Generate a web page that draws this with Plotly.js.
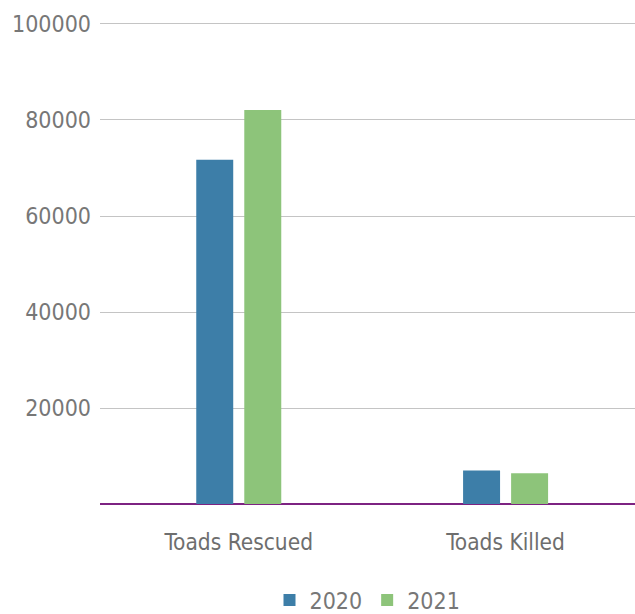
<!DOCTYPE html>
<html><head><meta charset="utf-8">
<script src="https://cdn.plot.ly/plotly-3.0.1.min.js"></script>
<style>html,body{margin:0;padding:0;background:#fff}#chart{width:635px;height:614px}</style>
</head><body><div id="chart"></div>
<script>
const categories = ["Toads Rescued", "Toads Killed"];
const values2020 = [71700, 7000];
const values2021 = [82100, 6400];
const yTicks = [20000, 40000, 60000, 80000, 100000];

const traces = [
  {type: "bar", name: "2020", x: categories, y: values2020, marker: {color: "#3d7ea8"}},
  {type: "bar", name: "2021", x: categories, y: values2021, marker: {color: "#8dc47a"}}
];
const layout = {
  width: 635, height: 614,
  margin: {l: 100, r: 0, t: 19, b: 110, autoexpand: false},
  paper_bgcolor: "#fff", plot_bgcolor: "#fff",
  barmode: "group", bargap: 0.64, bargroupgap: 0.23,
  font: {family: "DejaVu Sans Condensed, DejaVu Sans, sans-serif", color: "#777"},
  xaxis: {
    range: [-0.52, 1.485], showgrid: false, zeroline: false,
    showline: false, ticks: "", automargin: false,
    tickfont: {size: 22.5, color: "#6e6e6e"},
    ticklabelstandoff: 22
  },
  yaxis: {
    range: [0, 101040], tickvals: yTicks, ticktext: yTicks.map(String),
    showgrid: true, gridcolor: "#c4c4c4", gridwidth: 1,
    zeroline: true, zerolinecolor: "#7d2382", zerolinewidth: 2.5,
    showline: false, ticks: "", automargin: false,
    tickfont: {size: 23, color: "#777"},
    ticklabelstandoff: 8
  },
  showlegend: true,
  legend: {orientation: "h", x: 0.5, xanchor: "center", y: -0.198, yanchor: "middle",
    font: {size: 23, color: "#777"}, itemwidth: 30, traceorder: "normal"}
};
Plotly.newPlot("chart", traces, layout, {displayModeBar: false, staticPlot: true});
</script></body></html>
